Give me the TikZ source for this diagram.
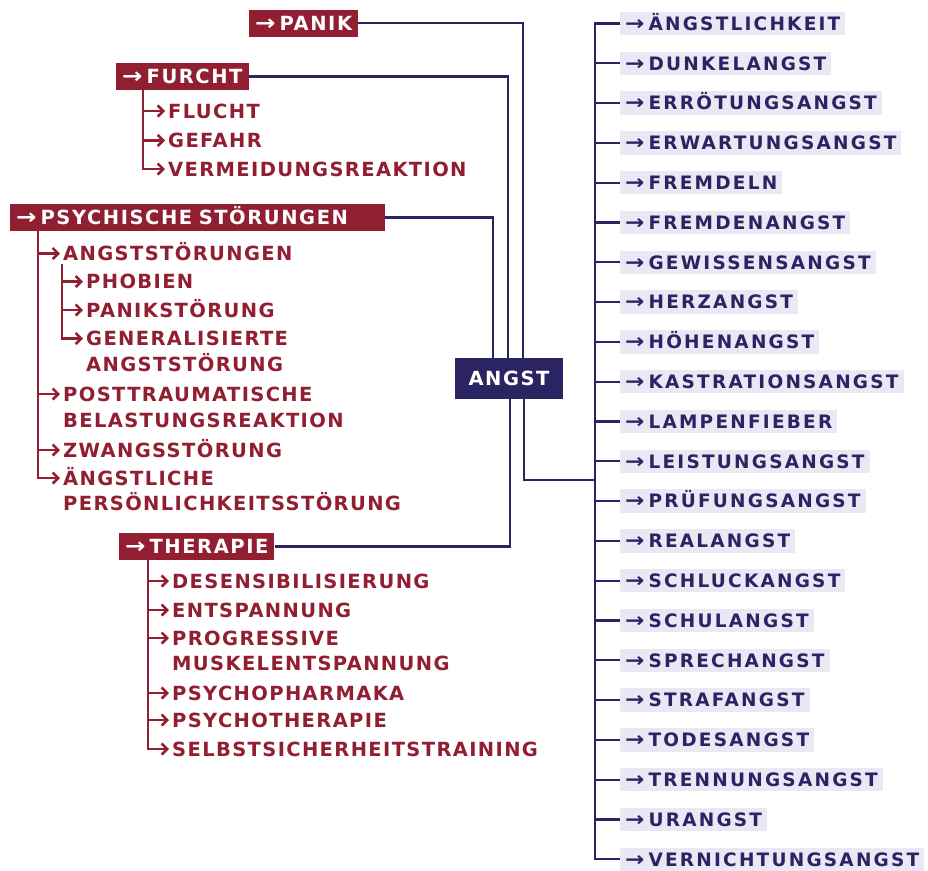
\documentclass[tikz,border=0pt]{standalone}
\usepackage{fontspec}
\setmainfont{DejaVu Sans}
\newfontfamily\headfont[LetterSpace=8]{DejaVu Sans}
\newfontfamily\redfont[LetterSpace=7]{DejaVu Sans}
\newfontfamily\bluefont[LetterSpace=12]{DejaVu Sans}
\usetikzlibrary{arrows.meta,positioning}
\definecolor{angstred}{HTML}{911E31}
\definecolor{angstblue}{HTML}{2B2463}
\definecolor{lavender}{HTML}{EBE7F4}
\newcommand{\ar}{\scalebox{1.25}[1.1]{→}\hspace{4pt}}

\tikzset{
	head/.style={fill=angstred,text=white,anchor=west,inner xsep=6pt,inner ysep=6.5pt,
		text height=14pt,text depth=0pt,font=\headfont\bfseries\fontsize{19.5pt}{24pt}\selectfont},
	sub/.style={text=angstred,anchor=west,inner sep=0pt,
		text height=14pt,text depth=0pt,font=\redfont\bfseries\fontsize{19.5pt}{24pt}\selectfont},
	leaf/.style={fill=lavender,text=angstblue,anchor=west,inner xsep=5pt,inner ysep=5pt,
		text height=13.5pt,text depth=0pt,font=\bluefont\bfseries\fontsize{18.5pt}{24pt}\selectfont},
	link/.style={draw=angstblue,line width=2.2pt},
	redlink/.style={draw=angstred,line width=2.5pt,-{Straight Barb[length=5.5pt,width=11pt]}}
}

\begin{document}
\begin{tikzpicture}[x=1pt,y=-1pt]
		\useasboundingbox (0,0) rectangle (928,870);

		% centre
		\node[fill=angstblue,text=white,minimum width=108pt,minimum height=41pt,
			font=\headfont\bfseries\fontsize{19.5pt}{24pt}\selectfont] (angst) at (509,378.5) {ANGST};

		% red headings
		\node[head] (panik) at (249,23) {\ar PANIK};
		\node[head] (furcht) at (116,76.5) {\ar FURCHT};
		\node[head,text width=363pt,align=left] (psych) at (10,217.5) {\ar PSYCHISCHE STÖRUNGEN};
		\node[head] (therapie) at (119,546.5) {\ar THERAPIE};

		\draw[link] (panik.east) -| ([xshift=14pt]angst.north);
		\draw[link] (furcht.east) -| ([xshift=-1pt]angst.north);
		\draw[link] (psych.east) -| ([xshift=-16pt]angst.north);
		\draw[link] (therapie.east) -| ([xshift=1pt]angst.south);

		% furcht
		\node[sub] (flucht) at (168,111) {FLUCHT};
		\node[sub] (gefahr) at (168,140.5) {GEFAHR};
		\node[sub] (vermeidung) at (168,169) {VERMEIDUNGSREAKTION};
		\coordinate (fv) at ([xshift=27pt]furcht.south west);
		\draw[redlink] (fv) |- ([xshift=-3pt]vermeidung.west);
		\draw[redlink] (fv |- flucht.west) -- ([xshift=-3pt]flucht.west);
		\draw[redlink] (fv |- gefahr.west) -- ([xshift=-3pt]gefahr.west);

		% psychische stoerungen
		\node[sub] (anxdis) at (63,253.5) {ANGSTSTÖRUNGEN};
		\node[sub] (phobien) at (86,281.5) {PHOBIEN};
		\node[sub] (panikst) at (86,310) {PANIKSTÖRUNG};
		\node[sub] (gen) at (86,338.5) {GENERALISIERTE};
		\node[sub,below=12pt of gen.south west,anchor=north west] (gen2) {ANGSTSTÖRUNG};
		\node[sub] (ptbs) at (63,394) {POSTTRAUMATISCHE};
		\node[sub,below=12pt of ptbs.south west,anchor=north west] (ptbs2) {BELASTUNGSREAKTION};
		\node[sub] (zwang) at (63,450) {ZWANGSSTÖRUNG};
		\node[sub] (aengstl) at (63,478) {ÄNGSTLICHE};
		\node[sub,below=11pt of aengstl.south west,anchor=north west] (aengstl2) {PERSÖNLICHKEITSSTÖRUNG};
		\coordinate (pv) at ([xshift=28pt]psych.south west);
		\draw[redlink] (pv) |- ([xshift=-3pt]aengstl.west);
		\draw[redlink] (pv |- anxdis.west) -- ([xshift=-3pt]anxdis.west);
		\draw[redlink] (pv |- ptbs.west) -- ([xshift=-3pt]ptbs.west);
		\draw[redlink] (pv |- zwang.west) -- ([xshift=-3pt]zwang.west);
		\coordinate (av) at ([xshift=-1pt,yshift=-3pt]anxdis.south west);
		\draw[redlink] (av) |- ([xshift=-3pt]gen.west);
		\draw[redlink] (av |- phobien.west) -- ([xshift=-3pt]phobien.west);
		\draw[redlink] (av |- panikst.west) -- ([xshift=-3pt]panikst.west);

		% therapie
		\node[sub] (desens) at (172,581) {DESENSIBILISIERUNG};
		\node[sub] (entsp) at (172,610) {ENTSPANNUNG};
		\node[sub] (progr) at (172,638) {PROGRESSIVE};
		\node[sub,below=11pt of progr.south west,anchor=north west] (progr2) {MUSKELENTSPANNUNG};
		\node[sub] (pharma) at (172,693) {PSYCHOPHARMAKA};
		\node[sub] (psychoth) at (172,720) {PSYCHOTHERAPIE};
		\node[sub] (selbst) at (172,749) {SELBSTSICHERHEITSTRAINING};
		\coordinate (tv) at ([xshift=29pt]therapie.south west);
		\draw[redlink] (tv) |- ([xshift=-3pt]selbst.west);
		\foreach \n in {desens,entsp,progr,pharma,psychoth}
			\draw[redlink] (tv |- \n.west) -- ([xshift=-3pt]\n.west);

		% angst list
		\foreach \word [count=\i] in {ÄNGSTLICHKEIT,DUNKELANGST,ERRÖTUNGSANGST,ERWARTUNGSANGST,
			FREMDELN,FREMDENANGST,GEWISSENSANGST,HERZANGST,HÖHENANGST,KASTRATIONSANGST,
			LAMPENFIEBER,LEISTUNGSANGST,PRÜFUNGSANGST,REALANGST,SCHLUCKANGST,SCHULANGST,
			SPRECHANGST,STRAFANGST,TODESANGST,TRENNUNGSANGST,URANGST,VERNICHTUNGSANGST}
			\node[leaf] (leaf\i) at (620,{23.5+39.8*(\i-1)}) {\ar\word};

		\draw[link] (leaf1.west) -- ++(-25,0) |- (leaf22.west);
		\foreach \i in {2,...,21}
			\draw[link] (leaf\i.west) -- ++(-25,0);
		\coordinate (join) at (595,480);
		\draw[link] ([xshift=15pt]angst.south) |- (join);
	\end{tikzpicture}
\end{document}
